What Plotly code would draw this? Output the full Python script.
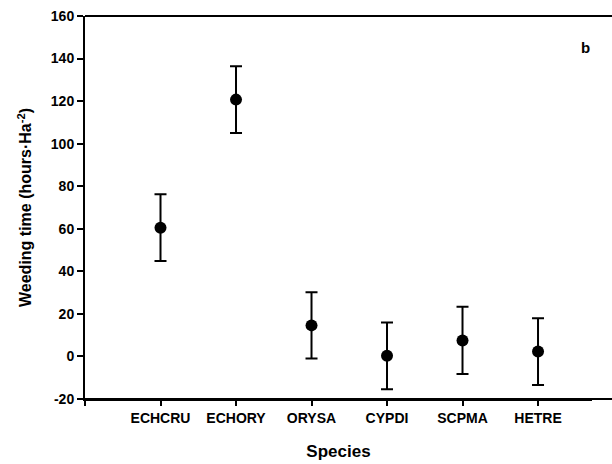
import plotly.graph_objects as go

# Weeding time per species (mean and error)
species = ["ECHCRU", "ECHORY", "ORYSA", "CYPDI", "SCPMA", "HETRE"]
weeding_time = [60.5, 120.7, 14.6, 0.3, 7.5, 2.3]
error = [15.7, 15.7, 15.6, 15.7, 15.8, 15.7]
y_ticks = [-20, 0, 20, 40, 60, 80, 100, 120, 140, 160]

positions = list(range(1, len(species) + 1))

font_family = "Liberation Sans, Arial, sans-serif"

fig = go.Figure(
    go.Scatter(
        x=positions,
        y=weeding_time,
        mode="markers",
        marker=dict(color="black", size=12),
        error_y=dict(type="data", array=error, visible=True,
                     color="black", thickness=2, width=6),
        showlegend=False,
    )
)

frame_line = dict(color="black", width=2)

fig.update_layout(
    width=612, height=464,
    margin=dict(l=85, r=20, t=16, b=65),
    paper_bgcolor="white", plot_bgcolor="white",
    font=dict(family=font_family, color="black"),
    annotations=[dict(
        text="<b>b</b>", x=0.988, y=0.919, xref="paper", yref="paper",
        xanchor="center", yanchor="middle",
        showarrow=False, font=dict(size=15, color="black"),
    )],
    # top and bottom frame lines run out to the right edge
    shapes=[
        dict(type="line", xref="paper", yref="paper",
             x0=0, x1=1.06, y0=1, y1=1, line=frame_line),
        dict(type="line", xref="paper", yref="paper",
             x0=0, x1=1.06, y0=0, y1=0, line=frame_line),
    ],
)

fig.update_xaxes(
    range=[0, 6.715],
    automargin=False,
    tickmode="array",
    tickvals=[0] + positions,
    ticktext=[""] + [f"<b>{s}</b>" for s in species],
    ticks="outside", ticklen=5, tickwidth=2, tickcolor="black",
    showline=True, linewidth=2, linecolor="black",
    showgrid=False, zeroline=False,
    tickfont=dict(size=14),
    title=dict(text="<b>Species</b>", font=dict(size=17), standoff=20),
)

fig.update_yaxes(
    range=[-20, 160],
    automargin=False,
    tickvals=y_ticks,
    ticktext=[f"<b>{v}</b>" for v in y_ticks],
    ticks="outside", ticklen=6, tickwidth=2, tickcolor="black",
    showline=True, linewidth=2, linecolor="black",
    showgrid=False, zeroline=False,
    tickfont=dict(size=14),
    title=dict(text="<b>Weeding time (hours·Ha<sup>-2</sup>)</b>",
               font=dict(size=16), standoff=15),
)

fig.write_html("out.html")
